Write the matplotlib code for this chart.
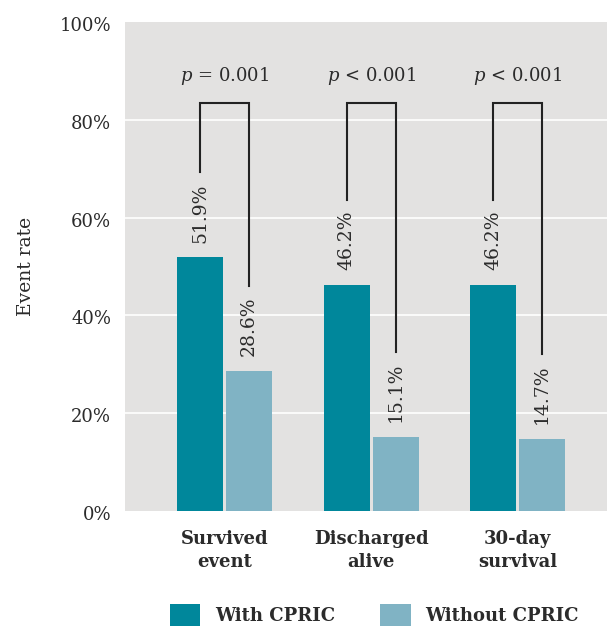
import matplotlib
matplotlib.use("Agg")
import matplotlib.pyplot as plt
import numpy as np

categories = ["Survived\nevent", "Discharged\nalive", "30-day\nsurvival"]
with_cpric = [51.9, 46.2, 46.2]
without_cpric = [28.6, 15.1, 14.7]
p_labels = ["$p$ = 0.001", "$p$ < 0.001", "$p$ < 0.001"]
series_names = ["With CPRIC", "Without CPRIC"]
yticks = [0, 20, 40, 60, 80, 100]

dark = "#00879B"
light = "#80B3C4"
bg = "#E3E2E1"
txt = "#2B2B2B"

plt.rcParams['font.family'] = ['DejaVu Serif']
plt.rcParams['mathtext.fontset'] = 'dejavuserif'

fig = plt.figure(figsize=(6.07, 6.26), dpi=100)
ax = fig.add_axes([125/607, 1 - 511/626, 482/607, (511 - 22)/626])
ax.set_facecolor(bg)

x = np.arange(len(categories))
w = 0.314
off = 0.167
ax.set_xlim(-0.68, 2.61)
ax.set_ylim(0, 100)

for yv in yticks[1:-1]:
    ax.axhline(yv, color="white", lw=1.2, zorder=1)

b1 = ax.bar(x - off, with_cpric, w, color=dark, zorder=2, label=series_names[0])
b2 = ax.bar(x + off, without_cpric, w, color=light, zorder=2, label=series_names[1])

lab_gap = 3.0
leg_gap = 17.5
top_y = 83.5
for i in range(len(categories)):
    for xx, v in ((x[i] - off, with_cpric[i]), (x[i] + off, without_cpric[i])):
        ax.text(xx, v + lab_gap, f"{v:.1f}%", rotation=90, ha="center", va="bottom",
                fontsize=13.5, color=txt, zorder=3)
    l = with_cpric[i] + leg_gap
    r = without_cpric[i] + leg_gap
    ax.plot([x[i] - off, x[i] - off, x[i] + off, x[i] + off], [l, top_y, top_y, r],
            color="#222222", lw=1.5, zorder=3, solid_joinstyle="miter")
    ax.text(x[i], top_y + 3.2, p_labels[i], ha="center", va="bottom", fontsize=13, color=txt)

ax.set_yticks(yticks)
ax.set_yticklabels([])
ax.tick_params(axis="y", length=0)
ytrans = ax.get_yaxis_transform()
for t in yticks:
    ax.annotate(f"{t}%", xy=(0, t), xycoords=ytrans, xytext=(-14, -4),
                textcoords="offset pixels", ha="right", va="center",
                fontsize=13, color=txt, annotation_clip=False)
ax.set_xticks(x)
ax.set_xticklabels(categories, fontsize=13, fontweight="bold", color=txt, linespacing=1.35)
ax.tick_params(axis="x", length=0, pad=14)
for s in ax.spines.values():
    s.set_visible(False)

ax.set_ylabel("Event rate", fontsize=13.5, color=txt, labelpad=61)

leg = ax.legend(handles=[b1, b2], loc="upper center", bbox_to_anchor=(0.517, -0.175),
                ncol=2, frameon=False, fontsize=13, handlelength=1.7, handleheight=1.5,
                handletextpad=0.8, columnspacing=2.5, borderaxespad=0)
for t in leg.get_texts():
    t.set_fontweight("bold")
    t.set_color(txt)

fig.savefig("out.png", dpi=100)
